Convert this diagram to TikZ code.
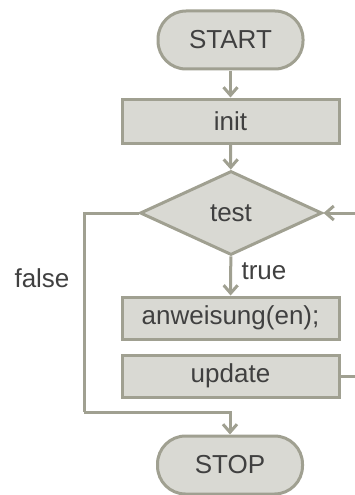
\documentclass[tikz,border=0pt]{standalone}
\usepackage{fontspec}
\setmainfont{Liberation Sans}
\usetikzlibrary{shapes.geometric,arrows.meta}
\definecolor{boxfill}{RGB}{217,217,211}
\definecolor{boxline}{RGB}{160,160,145}
\definecolor{txt}{RGB}{64,64,64}
\begin{document}
\begin{tikzpicture}[x=1pt,y=-1pt,
  every node/.style={font=\fontsize{26}{30}\selectfont, text=txt},
  box/.style={draw=boxline, fill=boxfill, line width=3pt, rectangle, minimum width=217pt, inner sep=0pt},
  term/.style={draw=boxline, fill=boxfill, line width=3pt, rectangle, rounded corners=28pt, minimum width=145pt, minimum height=58pt, inner sep=0pt},
  dia/.style={draw=boxline, fill=boxfill, line width=3pt, diamond, minimum width=182pt, minimum height=84pt, inner sep=0pt},
  arr/.style={draw=boxline, line width=3pt, -{Straight Barb[length=8pt,width=14pt,line width=3pt]}},
  ln/.style={draw=boxline, line width=3pt}]
\useasboundingbox (0,0) rectangle (355,495);
\node[term] (start) at (230.5,40) {START};
\node[box, minimum height=44pt] (init) at (230.5,121) {init};
\node[dia] (test) at (231,213) {test};
\node[box, minimum height=42pt] (anw) at (230.5,318) {anweisung(en);};
\node[box, minimum height=42pt] (upd) at (230.5,376) {update};
\node[term] (stop) at (230,465) {STOP};
\coordinate (fl) at (84,412);
\coordinate (re) at (356,213);
\coordinate (ue) at (356,376);
\draw[arr] (start) -- (init);
\draw[arr] (init) -- (test);
\draw[arr] (test) -- (anw);
\node[anchor=west] (tl) at (238,271) {true};
\node (fa) at (42,278) {false};
\draw[ln, rounded corners=0pt] (test.west) -| (fl);
\draw[arr] (fl) -| (stop.north);
\draw[arr] (re) -- (test.east);
\draw[ln] (upd.east) -- (ue);
\end{tikzpicture}
\end{document}
